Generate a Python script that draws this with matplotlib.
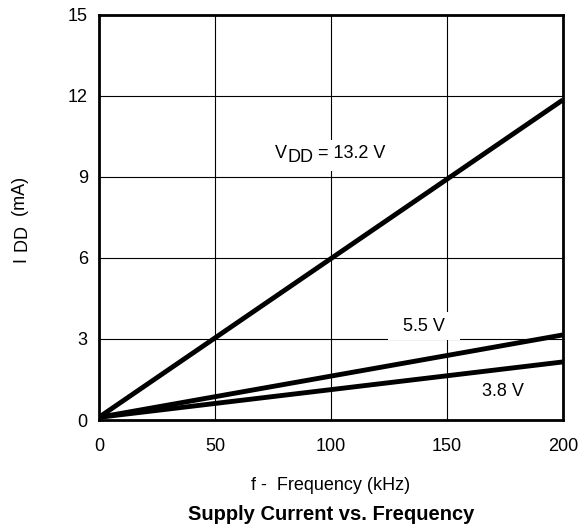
import matplotlib.pyplot as plt
from matplotlib.patches import Rectangle
from matplotlib.transforms import offset_copy, Bbox, IdentityTransform

# frequency (kHz) and supply current (mA)
freq = [0, 200]
idd_132 = [0.1, 11.85]
idd_55 = [0.1, 3.15]
idd_38 = [0.1, 2.15]

xticks = [0, 50, 100, 150, 200]
yticks = [0, 3, 6, 9, 12, 15]

plt.rcParams['font.family'] = ['Liberation Sans', 'DejaVu Sans']
FS = 13

fig = plt.figure(figsize=(5.82, 5.31), dpi=100)
ax = fig.add_axes([0.170, 0.209, 0.797, 0.763])
renderer = fig.canvas.get_renderer()

for y in [idd_132, idd_55, idd_38]:
    ax.plot(freq, y, color='black', linewidth=3.5, solid_capstyle='butt', zorder=3)

ax.set_xlim(0, 200)
ax.set_ylim(0, 15)
ax.set_xticks(xticks)
ax.set_yticks(yticks)
ax.tick_params(length=0, labelsize=FS)
ax.tick_params(axis='x', pad=13)
ax.tick_params(axis='y', pad=8)
ax.grid(True, color='black', linewidth=0.8)
ax.set_axisbelow(True)
for s in ax.spines.values():
    s.set_linewidth(2)


def run_text(x, y, parts, transform, vertical=False):
    # draw text pieces one after another, each with its own shift (in dots)
    pos = 0
    boxes = []
    for s, shift in parts:
        if vertical:
            tr = offset_copy(transform, fig=fig, x=shift, y=pos, units='dots')
            t = fig.text(x, y, s, transform=tr, rotation=90, rotation_mode='anchor',
                         ha='left', va='baseline', fontsize=FS)
            ext = t.get_window_extent(renderer)
            pos += ext.height
        else:
            tr = offset_copy(transform, fig=fig, x=pos, y=shift, units='dots')
            t = ax.text(x, y, s, transform=tr, ha='left', va='baseline',
                        fontsize=FS, zorder=5)
            ext = t.get_window_extent(renderer)
            pos += ext.width
        boxes.append(ext)
    return Bbox.union(boxes)


# 13.2 V label with a white box behind it
bb = run_text(76, 9.69, [('V', 0), ('DD', -4), (' = 13.2 V', 0)], ax.transData)
ax.add_patch(Rectangle((bb.x0 - 5, bb.y0 - 5), bb.width + 10, bb.height + 10,
                       transform=IdentityTransform(), facecolor='white',
                       edgecolor='none', zorder=4, clip_on=False))

ax.text(140.1, 3.48, '  5.5 V  ', fontsize=FS, ha='center', va='center',
        bbox=dict(facecolor='white', edgecolor='none', boxstyle='square,pad=0.3'), zorder=4)
ax.text(174.1, 1.04, '3.8 V', fontsize=FS, ha='center', va='center',
        bbox=dict(facecolor='white', edgecolor='none', pad=2), zorder=4)

# y label: I DD (mA), rotated
run_text(25 / 582, 1 - 262 / 531, [('I', 0), (' DD', 3), ('  (mA)', 0)], fig.transFigure,
         vertical=True)

fig.text(0.5 * (0.170 * 2 + 0.797), 1 - 485 / 531, 'f -  Frequency (kHz)', fontsize=FS,
         ha='center', va='center')
fig.text(0.5 * (0.170 * 2 + 0.797), 1 - 515 / 531, 'Supply Current vs. Frequency',
         fontsize=14.5, fontweight='bold', ha='center', va='center')

plt.savefig('out.png', dpi=100)
plt.close()
